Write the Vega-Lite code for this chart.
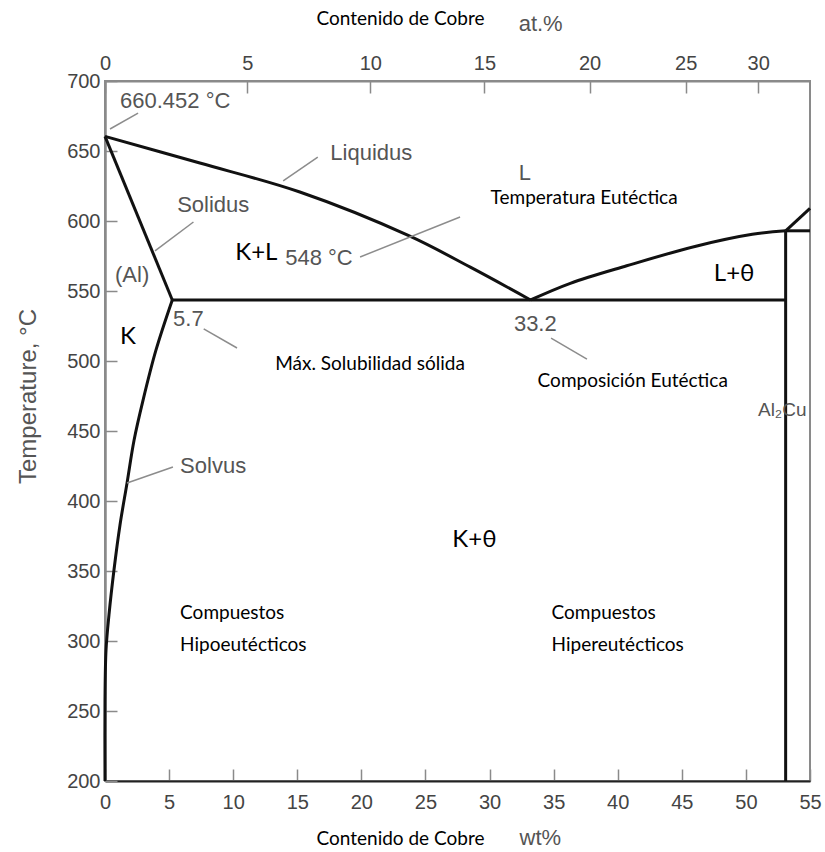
{
  "$schema": "https://vega.github.io/schema/vega-lite/v6.json",
  "width": 705,
  "height": 700,
  "autosize": {"type": "none"},
  "padding": {"left": 105, "top": 81, "right": 15, "bottom": 71},
  "background": "white",
  "config": {
    "view": {"stroke": "#8a8a8a", "strokeWidth": 2},
    "axis": {"grid": false, "labelFlush": false, "labelOverlap": false}
  },
  "datasets": {
    "curves": [
      {"seg": "liqL", "ord": 1, "wt": 0, "T": 660.45},
      {"seg": "liqL", "ord": 2, "wt": 7.4, "T": 641.4},
      {"seg": "liqL", "ord": 3, "wt": 15.2, "T": 620.7},
      {"seg": "liqL", "ord": 4, "wt": 23.7, "T": 589.5},
      {"seg": "liqL", "ord": 5, "wt": 28.5, "T": 567},
      {"seg": "liqL", "ord": 6, "wt": 33.2, "T": 543.6},
      {"seg": "liqR", "ord": 1, "wt": 33.2, "T": 543.6},
      {"seg": "liqR", "ord": 2, "wt": 36.3, "T": 555.5},
      {"seg": "liqR", "ord": 3, "wt": 40.7, "T": 568},
      {"seg": "liqR", "ord": 4, "wt": 46.1, "T": 582},
      {"seg": "liqR", "ord": 5, "wt": 50.5, "T": 590.5},
      {"seg": "liqR", "ord": 6, "wt": 53.1, "T": 593},
      {"seg": "eut", "ord": 1, "wt": 5.25, "T": 543.6},
      {"seg": "eut", "ord": 2, "wt": 53.1, "T": 543.6},
      {"seg": "sol", "ord": 1, "wt": 0, "T": 660.45},
      {"seg": "sol", "ord": 2, "wt": 5.25, "T": 543.6},
      {"seg": "solv", "ord": 1, "wt": 5.25, "T": 543.6},
      {"seg": "solv", "ord": 2, "wt": 3.98, "T": 507.9},
      {"seg": "solv", "ord": 3, "wt": 2.97, "T": 472.1},
      {"seg": "solv", "ord": 4, "wt": 2.27, "T": 443.6},
      {"seg": "solv", "ord": 5, "wt": 1.72, "T": 412.9},
      {"seg": "solv", "ord": 6, "wt": 1.17, "T": 382.9},
      {"seg": "solv", "ord": 7, "wt": 0.7, "T": 350.7},
      {"seg": "solv", "ord": 8, "wt": 0.31, "T": 318.6},
      {"seg": "solv", "ord": 9, "wt": 0.08, "T": 293.6},
      {"seg": "solv", "ord": 10, "wt": 0, "T": 257.9},
      {"seg": "solv", "ord": 11, "wt": 0, "T": 200},
      {"seg": "al2cu", "ord": 1, "wt": 53.1, "T": 593},
      {"seg": "al2cu", "ord": 2, "wt": 53.1, "T": 200},
      {"seg": "hor", "ord": 1, "wt": 53.1, "T": 593},
      {"seg": "hor", "ord": 2, "wt": 55, "T": 593},
      {"seg": "diag", "ord": 1, "wt": 53.1, "T": 593},
      {"seg": "diag", "ord": 2, "wt": 55, "T": 609}
    ],
    "leaders": [
      {"seg": "mp", "wt": 0.39, "T": 665.7},
      {"seg": "mp", "wt": 2.58, "T": 677.1},
      {"seg": "liq", "wt": 13.9, "T": 628.6},
      {"seg": "liq", "wt": 16.6, "T": 645.7},
      {"seg": "sol", "wt": 3.9, "T": 578.6},
      {"seg": "sol", "wt": 6.9, "T": 599.3},
      {"seg": "t548", "wt": 19.9, "T": 574.3},
      {"seg": "t548", "wt": 27.7, "T": 602.9},
      {"seg": "c57", "wt": 7.7, "T": 522.9},
      {"seg": "c57", "wt": 10.3, "T": 509.3},
      {"seg": "c332", "wt": 34.8, "T": 516.4},
      {"seg": "c332", "wt": 37.6, "T": 501.4},
      {"seg": "solv", "wt": 1.72, "T": 412.9},
      {"seg": "solv", "wt": 5.3, "T": 424.3}
    ],
    "grayText": [
      {"label": "660.452 °C", "wt": 1.17, "T": 685.7},
      {"label": "Liquidus", "wt": 17.58, "T": 648.6},
      {"label": "L", "wt": 32.27, "T": 634.3},
      {"label": "Solidus", "wt": 5.63, "T": 611.4},
      {"label": "(Al)", "wt": 0.78, "T": 561.4},
      {"label": "548 °C", "wt": 14.06, "T": 573.6},
      {"label": "5.7", "wt": 5.31, "T": 530},
      {"label": "33.2", "wt": 31.9, "T": 526.4},
      {"label": "Solvus", "wt": 5.86, "T": 425},
      {"label": "wt%", "wt": 32.34, "T": 159.3},
      {"label": "at.%", "wt": 32.27, "T": 741}
    ],
    "smallGray": [
      {"label": "Al₂Cu", "wt": 50.94, "T": 465}
    ],
    "phaseText": [
      {"label": "K+L", "wt": 10.16, "T": 577.1},
      {"label": "K", "wt": 1.17, "T": 517.1},
      {"label": "L+θ", "wt": 47.5, "T": 562.1},
      {"label": "K+θ", "wt": 27.1, "T": 372.1}
    ],
    "noteText": [
      {"label": "Temperatura Eutéctica", "wt": 30.08, "T": 616.4},
      {"label": "Máx. Solubilidad sólida", "wt": 13.28, "T": 497.9},
      {"label": "Composición Eutéctica", "wt": 33.75, "T": 485.7},
      {"label": "Compuestos", "wt": 5.86, "T": 320},
      {"label": "Hipoeutécticos", "wt": 5.86, "T": 297.1},
      {"label": "Compuestos", "wt": 34.84, "T": 320},
      {"label": "Hipereutécticos", "wt": 34.84, "T": 297.1}
    ]
  },
  "resolve": {"axis": {"x": "independent"}},
  "layer": [
    {
      "data": {"name": "curves"},
      "mark": {"type": "line", "color": "#111111", "strokeWidth": 3, "strokeJoin": "round", "interpolate": "catmull-rom"},
      "encoding": {
        "x": {
          "field": "wt", "type": "quantitative",
          "scale": {"domain": [0, 55], "nice": false, "zero": false},
          "axis": {
            "orient": "bottom",
            "values": [0, 5, 10, 15, 20, 25, 30, 35, 40, 45, 50, 55],
            "tickSize": -12, "tickColor": "#8a8a8a", "tickWidth": 1.5,
            "domainColor": "#222222", "domainWidth": 2,
            "labelFont": "Liberation Sans", "labelFontSize": 20, "labelColor": "#444444",
            "labelPadding": 23,
            "title": "Contenido de Cobre",
            "titleFont": "Lato", "titleFontSize": 19, "titleFontWeight": "normal", "titleColor": "#000000",
            "titleX": 295, "titleY": 57, "titleAlign": "center", "titleBaseline": "middle"
          }
        },
        "y": {
          "field": "T", "type": "quantitative",
          "scale": {"domain": [200, 700], "nice": false, "zero": false},
          "axis": {
            "values": [200, 250, 300, 350, 400, 450, 500, 550, 600, 650, 700],
            "tickSize": -12, "tickColor": "#8a8a8a", "tickWidth": 1.5,
            "domainColor": "#8a8a8a", "domainWidth": 2.5,
            "labelFont": "Liberation Sans", "labelFontSize": 20, "labelColor": "#444444",
            "labelPadding": 17,
            "title": "Temperature, °C",
            "titleFont": "Liberation Sans", "titleFontSize": 24, "titleFontWeight": "normal", "titleColor": "#555555",
            "titleX": -77, "titleY": 315, "titleAlign": "center", "titleBaseline": "middle", "titleAngle": -90
          }
        },
        "detail": {"field": "seg"},
        "order": {"field": "ord", "type": "quantitative"}
      }
    },
    {
      "data": {"name": "leaders"},
      "mark": {"type": "line", "color": "#8c8c8c", "strokeWidth": 1.5},
      "encoding": {
        "x": {
          "field": "wt", "type": "quantitative",
          "axis": {
            "orient": "top",
            "values": [0, 11.1, 20.7, 29.6, 37.8, 45.3, 50.96],
            "labelExpr": "datum.value < 1 ? '0' : datum.value < 12 ? '5' : datum.value < 22 ? '10' : datum.value < 31 ? '15' : datum.value < 39 ? '20' : datum.value < 46 ? '25' : '30'",
            "tickSize": -12, "tickColor": "#8a8a8a", "tickWidth": 1.5,
            "domainColor": "#8a8a8a", "domainWidth": 2,
            "labelFont": "Liberation Sans", "labelFontSize": 20, "labelColor": "#444444",
            "labelPadding": 20,
            "title": "Contenido de Cobre",
            "titleFont": "Lato", "titleFontSize": 19, "titleFontWeight": "normal", "titleColor": "#000000",
            "titleX": 295, "titleY": -63, "titleAlign": "center", "titleBaseline": "middle"
          }
        },
        "y": {"field": "T", "type": "quantitative"},
        "detail": {"field": "seg"}
      }
    },
    {
      "data": {"name": "grayText"},
      "mark": {"type": "text", "align": "left", "baseline": "middle", "font": "Liberation Sans", "fontSize": 22, "color": "#555555"},
      "encoding": {
        "x": {"field": "wt", "type": "quantitative", "axis": null},
        "y": {"field": "T", "type": "quantitative"},
        "text": {"field": "label"}
      }
    },
    {
      "data": {"name": "smallGray"},
      "mark": {"type": "text", "align": "left", "baseline": "middle", "font": "Liberation Sans", "fontSize": 19, "color": "#555555"},
      "encoding": {
        "x": {"field": "wt", "type": "quantitative", "axis": null},
        "y": {"field": "T", "type": "quantitative"},
        "text": {"field": "label"}
      }
    },
    {
      "data": {"name": "phaseText"},
      "mark": {"type": "text", "align": "left", "baseline": "middle", "font": "Lato", "fontSize": 24, "color": "#000000"},
      "encoding": {
        "x": {"field": "wt", "type": "quantitative", "axis": null},
        "y": {"field": "T", "type": "quantitative"},
        "text": {"field": "label"}
      }
    },
    {
      "data": {"name": "noteText"},
      "mark": {"type": "text", "align": "left", "baseline": "middle", "font": "Lato", "fontSize": 19, "color": "#000000"},
      "encoding": {
        "x": {"field": "wt", "type": "quantitative", "axis": null},
        "y": {"field": "T", "type": "quantitative"},
        "text": {"field": "label"}
      }
    }
  ]
}
